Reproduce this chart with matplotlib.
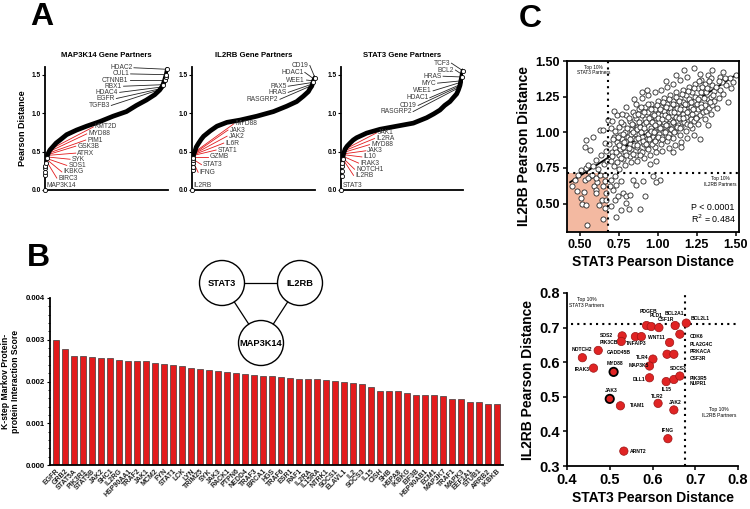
import numpy as np
import matplotlib
matplotlib.use("Agg")
import matplotlib.pyplot as plt
from matplotlib.patches import Circle

plt.rcParams["font.family"] = ["Liberation Sans", "DejaVu Sans"]

# ---------------- panel A: ranked Pearson distances (rank fraction, distance)
map3k14_rank = [0.0, 0.0, 0.0, 0.003, 0.008, 0.014, 0.02, 0.027, 0.04, 0.068, 0.09, 0.122, 0.176,
                0.257, 0.338, 0.446, 0.554, 0.662, 0.743, 0.824, 0.892, 0.932, 0.95, 0.959, 0.973,
                0.98, 0.986, 0.995]
map3k14_dist = [0.19, 0.23, 0.28, 0.31, 0.35, 0.41, 0.45, 0.48, 0.52, 0.57, 0.61, 0.65, 0.72,
                0.78, 0.83, 0.89, 0.96, 1.02, 1.10, 1.17, 1.24, 1.30, 1.34, 1.37, 1.43,
                1.47, 1.50, 1.57]
il2rb_rank = [0.008, 0.01, 0.008, 0.008, 0.01, 0.014, 0.027, 0.035, 0.054, 0.075, 0.095, 0.149,
              0.203, 0.284, 0.392, 0.527, 0.662, 0.77, 0.851, 0.905, 0.946, 0.96, 0.973, 0.986, 1.0]
il2rb_dist = [0.26, 0.30, 0.35, 0.39, 0.42, 0.46, 0.52, 0.56, 0.61, 0.66, 0.70, 0.77,
              0.83, 0.88, 0.91, 0.96, 1.02, 1.09, 1.15, 1.22, 1.28, 1.32, 1.35, 1.41, 1.46]
stat3_rank = [0.005, 0.005, 0.008, 0.01, 0.014, 0.019, 0.033, 0.05, 0.074, 0.1, 0.128, 0.21, 0.32,
              0.456, 0.593, 0.702, 0.76, 0.811, 0.85, 0.893, 0.92, 0.948, 0.962, 0.975, 0.989, 1.0]
stat3_dist = [0.18, 0.25, 0.31, 0.35, 0.40, 0.46, 0.53, 0.57, 0.61, 0.65, 0.68, 0.74, 0.79,
              0.83, 0.87, 0.94, 0.99, 1.04, 1.10, 1.15, 1.20, 1.25, 1.30, 1.36, 1.47, 1.55]

map3k14_far = ["HDAC2", "CUL1", "CTNNB1", "RBX1", "HDAC4", "EGFR", "TGFB3"]
map3k14_far_at = [(0.995, 1.57), (0.986, 1.50), (0.973, 1.43), (0.959, 1.37), (0.95, 1.34),
                  (0.945, 1.32), (0.94, 1.31)]
map3k14_near = ["KMT2D", "MYD88", "PIM1", "GSK3B", "ATRX", "SYK", "SOS1", "IKBKG", "BIRC3"]
map3k14_near_at = [(0.045, 0.53), (0.035, 0.50), (0.03, 0.48), (0.025, 0.46), (0.02, 0.45),
                   (0.017, 0.43), (0.014, 0.41), (0.012, 0.40), (0.01, 0.38)]

il2rb_far = ["CD19", "HDAC1", "WEE1", "PAX5", "HRAS", "RASGRP2"]
il2rb_far_at = [(1.0, 1.46), (0.995, 1.44), (0.99, 1.42), (0.985, 1.40), (0.98, 1.38), (0.975, 1.36)]
il2rb_near = ["MYD88", "JAK3", "JAK2", "IL6R", "STAT1", "GZMB", "STAT3", "IFNG"]
il2rb_near_at = [(0.027, 0.50), (0.022, 0.48), (0.018, 0.47), (0.016, 0.46), (0.014, 0.45),
                 (0.012, 0.43), (0.009, 0.40), (0.008, 0.37)]

stat3_far = ["TCF3", "BCL2", "HRAS", "MYC", "WEE1", "HDAC1", "CD19", "RASGRP2"]
stat3_far_at = [(1.0, 1.55), (0.995, 1.50), (0.99, 1.47), (0.985, 1.42), (0.98, 1.40),
                (0.975, 1.37), (0.97, 1.35), (0.965, 1.33)]
stat3_near = ["JAK1", "IL2RA", "MYD88", "JAK3", "IL10", "IRAK3", "NOTCH1", "IL2RB"]
stat3_near_at = [(0.033, 0.53), (0.028, 0.51), (0.024, 0.49), (0.02, 0.47), (0.018, 0.46),
                 (0.015, 0.44), (0.013, 0.42), (0.012, 0.41)]

# ---------------- panel B: K-step Markov PPI scores
bar_genes = ["EGFR", "GRB2", "STAT5A", "PIK3R1", "STAT5B", "JAK2", "SHC1", "IL2RG", "HSP90AA1",
             "TRAF2", "JAK1", "MCM2", "FYN", "STAT1", "LCK", "LYN", "TRIM25", "SYK", "JAK3",
             "RACK1", "PTPN6", "NEDD4", "TRAF3", "BRCA1", "HGS", "TRAF6", "ESR1", "RAF1",
             "IL2RA", "IL15RA", "NTRK1", "SOCS1", "ELAVL1", "IL2", "SOCS3", "IL15", "CISH",
             "SHB", "HSPA8", "IKBKG", "EIF3B", "HSP90AB1", "ECM1", "MAP3K7", "TRAF1", "MAPK3",
             "EEF1A1", "STUB1", "ARRB2", "IKBKB"]
bar_scores = [0.00300, 0.00279, 0.00261, 0.00261, 0.00258, 0.00257, 0.00256, 0.00252, 0.00248,
              0.00248, 0.00248, 0.00245, 0.00242, 0.00240, 0.00236, 0.00233, 0.00230, 0.00228,
              0.00226, 0.00222, 0.00220, 0.00219, 0.00216, 0.00214, 0.00212, 0.00210, 0.00209,
              0.00207, 0.00206, 0.00205, 0.00203, 0.00201, 0.00199, 0.00196, 0.00193, 0.00188,
              0.00177, 0.00177, 0.00177, 0.00172, 0.00168, 0.00167, 0.00167, 0.00165, 0.00159,
              0.00157, 0.00152, 0.00150, 0.00146, 0.00145]
net_nodes = ["STAT3", "IL2RB", "MAP3K14"]
net_edges = [("STAT3", "IL2RB"), ("STAT3", "MAP3K14"), ("IL2RB", "MAP3K14")]

# ---------------- panel C (top): STAT3 vs IL2RB distance for all genes
corr_pairs = [
    # lower-left quadrant
    (0.453, 0.621), (0.483, 0.586), (0.511, 0.540), (0.526, 0.579), (0.517, 0.500), (0.543, 0.486),
    (0.547, 0.347), (0.474, 0.667), (0.532, 0.667), (0.564, 0.691), (0.590, 0.621), (0.603, 0.598),
    (0.607, 0.574), (0.611, 0.649), (0.624, 0.486), (0.645, 0.523), (0.650, 0.621), (0.660, 0.656),
    (0.660, 0.470), (0.650, 0.388), (0.667, 0.574), (0.671, 0.528), (0.553, 0.679), (0.581, 0.702),
    (0.603, 0.679), (0.628, 0.702), (0.660, 0.700), (0.489, 0.700),
    # below IL2RB cut, right of STAT3 cut
    (0.735, 0.407), (0.763, 0.453), (0.703, 0.481), (0.724, 0.528), (0.746, 0.551), (0.778, 0.574),
    (0.799, 0.551), (0.821, 0.563), (0.816, 0.463), (0.889, 0.463), (0.917, 0.551), (0.795, 0.505),
    (0.714, 0.598), (0.692, 0.621), (0.735, 0.633), (0.767, 0.656), (0.842, 0.667), (0.863, 0.633),
    (0.906, 0.656), (0.970, 0.691), (1.017, 0.663), (0.724, 0.690), (0.703, 0.667), (0.990, 0.650),
    # upper-left
    (0.511, 0.737), (0.543, 0.749), (0.532, 0.900), (0.543, 0.947), (0.564, 0.877), (0.585, 0.970),
    (0.628, 1.016), (0.650, 1.016), (0.660, 0.923), (0.671, 0.865), (0.639, 0.842), (0.682, 1.086),
    (0.607, 0.807), (0.553, 0.772), (0.585, 0.760), (0.620, 0.740), (0.655, 0.780), (0.675, 0.800),
    # main band
    (0.70, 0.80), (0.71, 0.86), (0.69, 0.92), (0.72, 0.97), (0.70, 1.03), (0.71, 1.08), (0.72, 0.76),
    (0.73, 0.89), (0.74, 0.79), (0.75, 0.84), (0.74, 0.93), (0.76, 0.98), (0.75, 1.04), (0.74, 1.12),
    (0.76, 0.88), (0.75, 0.74), (0.77, 0.95), (0.78, 0.81), (0.79, 0.86), (0.78, 0.90), (0.80, 0.94),
    (0.79, 1.00), (0.78, 1.06), (0.80, 1.12), (0.79, 0.77), (0.81, 0.97), (0.80, 1.18), (0.82, 0.83),
    (0.83, 0.88), (0.82, 0.92), (0.84, 0.96), (0.83, 1.02), (0.82, 1.08), (0.84, 1.14), (0.83, 0.79),
    (0.85, 0.91), (0.84, 1.05), (0.83, 0.99), (0.86, 0.84), (0.87, 0.90), (0.86, 0.95), (0.88, 0.99),
    (0.87, 1.04), (0.86, 1.10), (0.88, 1.16), (0.87, 0.80), (0.89, 0.93), (0.88, 1.07), (0.86, 1.20),
    (0.89, 0.87), (0.90, 0.86), (0.91, 0.92), (0.90, 0.97), (0.92, 1.01), (0.91, 1.06), (0.90, 1.12),
    (0.92, 1.18), (0.91, 0.82), (0.93, 0.95), (0.92, 1.09), (0.90, 1.24), (0.93, 0.89), (0.94, 0.88),
    (0.95, 0.93), (0.94, 0.99), (0.96, 1.03), (0.95, 1.08), (0.94, 1.14), (0.96, 1.20), (0.95, 0.84),
    (0.97, 0.97), (0.96, 1.11), (0.94, 1.26), (0.97, 1.16), (0.95, 0.78), (0.98, 0.90), (0.99, 0.95),
    (0.98, 1.01), (1.00, 1.05), (0.99, 1.10), (0.98, 1.16), (1.00, 1.22), (0.99, 0.86), (1.01, 0.99),
    (1.00, 1.13), (0.98, 1.28), (1.01, 1.07), (0.99, 0.80), (1.02, 0.92), (1.03, 0.97), (1.02, 1.03),
    (1.04, 1.07), (1.03, 1.12), (1.02, 1.18), (1.04, 1.24), (1.03, 0.87), (1.05, 1.01), (1.04, 1.15),
    (1.02, 1.30), (1.05, 1.09), (1.06, 0.94), (1.07, 0.99), (1.06, 1.05), (1.08, 1.09), (1.07, 1.14),
    (1.06, 1.20), (1.08, 1.26), (1.07, 0.89), (1.09, 1.03), (1.08, 1.17), (1.06, 1.32), (1.09, 1.12),
    (1.10, 0.96), (1.11, 1.01), (1.10, 1.07), (1.12, 1.11), (1.11, 1.16), (1.10, 1.22), (1.12, 1.28),
    (1.11, 0.91), (1.13, 1.05), (1.12, 1.19), (1.10, 1.34), (1.13, 1.14), (1.14, 0.98), (1.15, 1.04),
    (1.14, 1.09), (1.16, 1.13), (1.15, 1.18), (1.14, 1.24), (1.16, 1.30), (1.15, 0.93), (1.17, 1.07),
    (1.16, 1.21), (1.14, 1.37), (1.17, 1.16), (1.18, 1.01), (1.19, 1.06), (1.18, 1.11), (1.20, 1.15),
    (1.19, 1.20), (1.18, 1.26), (1.20, 1.32), (1.19, 0.96), (1.21, 1.09), (1.20, 1.23), (1.17, 1.44),
    (1.21, 1.18), (1.22, 1.03), (1.23, 1.08), (1.22, 1.13), (1.24, 1.17), (1.23, 1.22), (1.22, 1.28),
    (1.24, 1.34), (1.23, 0.98), (1.25, 1.11), (1.24, 1.25), (1.23, 1.45), (1.25, 1.20), (1.26, 1.06),
    (1.27, 1.12), (1.26, 1.16), (1.28, 1.20), (1.27, 1.25), (1.26, 1.31), (1.28, 1.37), (1.27, 0.95),
    (1.29, 1.14), (1.28, 1.28), (1.30, 1.09), (1.31, 1.15), (1.30, 1.19), (1.32, 1.23), (1.31, 1.28),
    (1.30, 1.34), (1.32, 1.40), (1.32, 1.05), (1.33, 1.17), (1.34, 1.13), (1.35, 1.19), (1.34, 1.25),
    (1.36, 1.29), (1.35, 1.33), (1.34, 1.38), (1.36, 1.22), (1.38, 1.17), (1.39, 1.24), (1.40, 1.30),
    (1.41, 1.35), (1.40, 1.39), (1.42, 1.27), (1.44, 1.33), (1.46, 1.38), (1.47, 1.31), (1.50, 1.40),
    (1.45, 1.21), (1.10, 0.86), (1.15, 0.90), (0.72, 1.15), (0.77, 1.13), (0.85, 1.23),
    # extra band points
    (0.705, 0.83), (0.715, 0.95), (0.725, 1.01), (0.735, 0.86), (0.745, 0.97), (0.755, 0.91),
    (0.765, 1.07), (0.765, 0.82), (0.775, 0.99), (0.785, 0.93), (0.795, 0.84), (0.805, 1.03),
    (0.815, 0.89), (0.815, 1.10), (0.825, 0.95), (0.835, 1.06), (0.845, 0.85), (0.845, 1.00),
    (0.855, 1.12), (0.865, 0.91), (0.865, 1.02), (0.875, 0.96), (0.875, 1.13), (0.885, 0.84),
    (0.885, 1.04), (0.895, 1.00), (0.895, 1.18), (0.905, 0.94), (0.915, 1.03), (0.915, 1.14),
    (0.925, 0.92), (0.925, 1.07), (0.935, 0.99), (0.935, 1.20), (0.945, 0.95), (0.945, 1.10),
    (0.955, 1.01), (0.955, 1.16), (0.965, 0.92), (0.965, 1.07), (0.975, 1.00), (0.975, 1.12),
    (0.985, 0.94), (0.985, 1.05), (0.995, 1.19), (1.005, 0.97), (1.005, 1.10), (1.015, 1.03),
    (1.015, 1.16), (1.025, 0.95), (1.025, 1.09), (1.035, 1.21), (1.045, 1.00), (1.045, 1.12),
    (1.055, 1.05), (1.055, 1.18), (1.065, 0.97), (1.065, 1.11), (1.075, 1.23), (1.085, 1.02),
    (1.085, 1.14), (1.095, 1.07), (1.095, 1.20), (1.105, 1.00), (1.105, 1.14), (1.115, 1.25),
    (1.125, 1.04), (1.125, 1.17), (1.135, 1.10), (1.135, 1.22), (1.145, 1.03), (1.145, 1.16),
    (1.155, 1.27), (1.165, 1.10), (1.175, 1.20), (1.185, 1.14), (1.195, 1.29), (1.205, 1.05),
    (1.215, 1.21), (1.225, 1.16), (1.235, 1.31), (1.245, 1.10), (1.255, 1.23), (1.265, 1.36),
    (1.275, 1.18), (1.285, 1.32), (1.295, 1.24), (1.315, 1.31), (1.325, 1.36), (1.335, 1.21),
    (1.355, 1.26), (1.375, 1.32), (1.395, 1.36), (1.43, 1.38), (1.48, 1.35),
    (0.90, 1.28), (0.93, 1.30), (1.05, 1.36), (1.12, 1.40), (1.19, 1.39), (1.27, 1.41),
    (1.35, 1.44), (1.42, 1.42),
]
stat3_cut = 0.68
il2rb_cut = 0.711
fit_slope = 0.71
fit_intercept = 0.337
fit_p = "P < 0.0001"
fit_r2 = "0.484"

# ---------------- panel C (bottom): genes in the top 10% of both
shared_stat3 = [0.436, 0.462, 0.473, 0.509, 0.500, 0.525, 0.533, 0.529, 0.527, 0.560, 0.574, 0.586,
                0.597, 0.615, 0.653, 0.679, 0.664, 0.640, 0.634, 0.650, 0.601, 0.593, 0.593, 0.632,
                0.650, 0.664, 0.613, 0.650, 0.636]
shared_il2rb = [0.613, 0.583, 0.634, 0.572, 0.494, 0.474, 0.343, 0.676, 0.660, 0.674, 0.674, 0.706,
                0.703, 0.700, 0.706, 0.713, 0.681, 0.657, 0.623, 0.623, 0.609, 0.589, 0.555, 0.544,
                0.550, 0.560, 0.481, 0.462, 0.379]
shared_ringed = [False, False, False, True, True] + [False] * 24
shared_names = ["PDGFB", "PLD1", "CSF1R", "BCL2A1", "BCL2L1", "SOS2", "WNT11", "TNFAIP3", "PIK3CB",
                "CDK6", "PLA2G4C", "NOTCH2", "GADD45B", "PRKACA", "CSF3R", "TLR4", "MYD88",
                "MAP3K5", "IRAK3", "SOCS3", "DLL1", "PIK3R5", "NUPR1", "IL15", "JAK3", "TLR2",
                "JAK2", "TIAM1", "IFNG", "ARNT2"]

# ---------------- layout (positions of labels)
map3k14_far_pos = [(0.711, 1.59), (0.684, 1.51), (0.676, 1.43), (0.627, 1.35), (0.595, 1.27),
                   (0.568, 1.19), (0.527, 1.10)]
map3k14_near_pos = [(0.405, 0.82), (0.351, 0.73), (0.343, 0.65), (0.262, 0.57), (0.262, 0.48),
                    (0.216, 0.40), (0.189, 0.32), (0.149, 0.235), (0.108, 0.155)]
il2rb_far_pos = [(0.946, 1.62), (0.905, 1.53), (0.919, 1.43), (0.77, 1.35), (0.77, 1.27), (0.703, 1.18)]
il2rb_near_pos = [(0.351, 0.86), (0.305, 0.78), (0.297, 0.70), (0.27, 0.61), (0.208, 0.52),
                  (0.143, 0.43), (0.089, 0.33), (0.062, 0.23)]
stat3_far_pos = [(0.893, 1.65), (0.926, 1.56), (0.825, 1.48), (0.779, 1.39), (0.743, 1.29),
                 (0.716, 1.20), (0.62, 1.10), (0.579, 1.02)]
stat3_near_pos = [(0.306, 0.745), (0.287, 0.67), (0.246, 0.59), (0.216, 0.51), (0.183, 0.43),
                  (0.156, 0.35), (0.123, 0.27), (0.115, 0.19)]
shared_label_pos = [(0.570, 0.747), (0.593, 0.734), (0.613, 0.723), (0.628, 0.740), (0.689, 0.727),
                    (0.476, 0.676), (0.589, 0.671), (0.539, 0.655), (0.476, 0.658), (0.687, 0.674),
                    (0.687, 0.650), (0.410, 0.636), (0.492, 0.628), (0.687, 0.631), (0.687, 0.611),
                    (0.562, 0.614), (0.492, 0.595), (0.543, 0.591), (0.418, 0.578), (0.640, 0.582),
                    (0.554, 0.551), (0.687, 0.553), (0.687, 0.537), (0.621, 0.521), (0.488, 0.518),
                    (0.597, 0.502), (0.639, 0.483), (0.547, 0.474), (0.621, 0.402), (0.547, 0.341)]
net_pos = {"STAT3": (222, 283), "IL2RB": (300, 283), "MAP3K14": (261, 343)}

RED = "#e31a1c"
W, H = 750, 509

fig = plt.figure(figsize=(7.5, 5.09), dpi=100)


def px_rect(left, top, right, bottom):
    return [left / W, 1 - bottom / H, (right - left) / W, (bottom - top) / H]


def curve_panel(rect, title, rank, dist, self_name, far, far_at, far_pos, near, near_at, near_pos,
                ylabel=False):
    ax = fig.add_axes(rect)
    rank = np.array(rank)
    dist = np.array(dist)
    body = dist >= 0.38
    ax.plot(rank[body], dist[body], color="black", lw=3.4, solid_capstyle="round", zorder=3)
    tail = (dist < 0.45) | (dist > 1.36)
    ax.plot(rank[tail], dist[tail], "o", ms=3.0, mfc="white", mec="black", mew=0.6, zorder=4,
            clip_on=False)
    ax.plot([0], [0], "o", ms=3.0, mfc="white", mec="black", mew=0.6, zorder=5, clip_on=False)
    for name, (tx, ty), (lx, ly) in zip(far, far_at, far_pos):
        ax.plot([lx + 0.012, tx], [ly, ty], color="#222222", lw=0.6, zorder=2, clip_on=False)
        ax.text(lx, ly, name, ha="right", va="center", fontsize=4.8, color="#3a3a3a")
    for name, (tx, ty), (lx, ly) in zip(near, near_at, near_pos):
        ax.plot([lx - 0.012, tx], [ly, ty], color=RED, lw=0.6, zorder=2)
        ax.text(lx, ly, name, ha="left", va="center", fontsize=4.8, color="#3a3a3a")
    ax.text(0.014, 0.06, self_name, ha="left", va="center", fontsize=4.8, color="#3a3a3a")
    ax.set_xlim(0, 1.0)
    ax.set_ylim(0, 1.6)
    ax.set_xticks([])
    ax.set_yticks([0, 0.5, 1.0, 1.5])
    ax.set_yticklabels(["0.0", "0.5", "1.0", "1.5"], fontsize=4.8, fontweight="bold")
    ax.tick_params(axis="y", length=2, width=0.8, pad=1)
    for s in ["top", "right"]:
        ax.spines[s].set_visible(False)
    for s in ["left", "bottom"]:
        ax.spines[s].set_linewidth(1.3)
    ax.set_title(title, fontsize=5.6, fontweight="bold", pad=7)
    if ylabel:
        ax.set_ylabel("Pearson Distance", fontsize=6.5, fontweight="bold", labelpad=3)
    ax.patch.set_alpha(0)
    return ax


curve_panel(px_rect(45, 67, 168, 190), "MAP3K14 Gene Partners", map3k14_rank, map3k14_dist,
            "MAP3K14", map3k14_far, map3k14_far_at, map3k14_far_pos,
            map3k14_near, map3k14_near_at, map3k14_near_pos, ylabel=True)
curve_panel(px_rect(192, 67, 315, 190), "IL2RB Gene Partners", il2rb_rank, il2rb_dist,
            "IL2RB", il2rb_far, il2rb_far_at, il2rb_far_pos,
            il2rb_near, il2rb_near_at, il2rb_near_pos)
curve_panel(px_rect(341, 67, 463, 190), "STAT3 Gene Partners", stat3_rank, stat3_dist,
            "STAT3", stat3_far, stat3_far_at, stat3_far_pos,
            stat3_near, stat3_near_at, stat3_near_pos)

# ---------------- panel B
axb = fig.add_axes(px_rect(50, 298, 503, 465))
xb = np.arange(len(bar_genes))
axb.bar(xb, bar_scores, width=0.62, color=RED, edgecolor="#3c3c3c", linewidth=0.5)
axb.set_xlim(-0.67, len(bar_genes) - 0.33)
axb.set_ylim(0, 0.004)
axb.set_yticks(np.arange(0, 0.0041, 0.001))
axb.set_yticks(np.arange(0, 0.0041, 0.0002), minor=True)
axb.set_yticklabels(["0.000", "0.001", "0.002", "0.003", "0.004"], fontsize=5.6, fontweight="bold")
axb.set_xticks(xb)
axb.set_xticklabels(bar_genes, rotation=45, ha="right", va="top", rotation_mode="anchor",
                    fontsize=5.0, fontweight="bold", color="#222222")
axb.tick_params(axis="x", length=0, pad=2)
axb.tick_params(axis="y", which="major", length=2.5, width=0.8, pad=1)
axb.tick_params(axis="y", which="minor", length=1.5, width=0.6)
for s in ["top", "right"]:
    axb.spines[s].set_visible(False)
for s in ["left", "bottom"]:
    axb.spines[s].set_linewidth(1.3)
axb.set_ylabel("K-step Markov Protein-\nprotein Interaction Score", fontsize=6.2,
               fontweight="bold", labelpad=4)

# network sketch drawn in pixel space
net = fig.add_axes([0, 0, 1, 1])
net.set_xlim(0, W)
net.set_ylim(H, 0)
net.axis("off")
for a, b in net_edges:
    (x1, y1), (x2, y2) = net_pos[a], net_pos[b]
    net.plot([x1, x2], [y1, y2], color="black", lw=0.9, zorder=1)
for name in net_nodes:
    cx, cy = net_pos[name]
    net.add_patch(Circle((cx, cy), 22.5, facecolor="white", edgecolor="black", lw=1.0, zorder=2))
    net.text(cx, cy, name, ha="center", va="center", fontsize=6.7, fontweight="bold", zorder=3)

# ---------------- panel C top
axc = fig.add_axes(px_rect(567, 61, 739, 232))
cx_all = [p[0] for p in corr_pairs]
cy_all = [p[1] for p in corr_pairs]
axc.fill_between([0.42, stat3_cut], 0.30, il2rb_cut, color="#f3b9a1", lw=0, zorder=0)
xs = np.array([0.44, 1.51])
axc.plot(xs, fit_intercept + fit_slope * xs, color="black", lw=1.3, zorder=1)
axc.plot(cx_all, cy_all, "o", ms=3.7, mfc="white", mec="#262626", mew=0.6, zorder=2)
axc.axvline(stat3_cut, color="black", ls=(0, (1, 2)), lw=1.5, zorder=3)
axc.axhline(il2rb_cut, color="black", ls=(0, (1, 2)), lw=1.5, zorder=3)
axc.text(0.59, 1.475, "Top 10%\nSTAT3 Partners", ha="center", va="top", fontsize=3.4,
         linespacing=1.2)
axc.text(1.40, 0.695, "Top 10%\nIL2RB Partners", ha="center", va="top", fontsize=3.4,
         linespacing=1.2)
axc.text(1.215, 0.47, fit_p, ha="left", va="center", fontsize=6.4)
axc.text(1.215, 0.39, "R$^2$ = " + fit_r2, ha="left", va="center", fontsize=6.4)
axc.set_xlim(0.42, 1.52)
axc.set_ylim(0.30, 1.50)
axc.set_xticks([0.5, 0.75, 1.0, 1.25, 1.5])
axc.set_yticks([0.5, 0.75, 1.0, 1.25, 1.5])
axc.set_xticklabels(["0.50", "0.75", "1.00", "1.25", "1.50"], fontsize=9, fontweight="bold")
axc.set_yticklabels(["0.50", "0.75", "1.00", "1.25", "1.50"], fontsize=9, fontweight="bold")
axc.tick_params(length=3, width=1.1, pad=2)
for s in axc.spines.values():
    s.set_linewidth(1.3)
axc.set_xlabel("STAT3 Pearson Distance", fontsize=10, fontweight="bold", labelpad=3)
axc.set_ylabel("IL2RB Pearson Distance", fontsize=10, fontweight="bold", labelpad=3)

# ---------------- panel C bottom
axd = fig.add_axes(px_rect(567, 293, 738, 466))
axd.axvline(stat3_cut - 0.003, color="black", ls=(0, (1, 2)), lw=1.5, zorder=1)
axd.plot([0.41, 0.8], [il2rb_cut, il2rb_cut], color="black", ls=(0, (1, 2)), lw=1.5, zorder=1)
edge_cols = ["black" if r else "#9c1414" for r in shared_ringed]
edge_w = [1.3 if r else 0.5 for r in shared_ringed]
axd.scatter(shared_stat3, shared_il2rb, s=36, color="#e02424", edgecolors=edge_cols,
            linewidths=edge_w, zorder=3, clip_on=False)
for name, (lx, ly) in zip(shared_names, shared_label_pos):
    axd.text(lx, ly, name, ha="left", va="center", fontsize=3.6, fontweight="bold", zorder=4)
axd.text(0.405, 0.772, "Top 10%\nSTAT3 Partners", ha="left", va="center", fontsize=3.6,
         multialignment="center", linespacing=1.2)
axd.text(0.755, 0.455, "Top 10%\nIL2RB Partners", ha="center", va="center", fontsize=3.6,
         linespacing=1.2)
axd.set_xlim(0.4, 0.8)
axd.set_ylim(0.3, 0.8)
axd.set_xticks([0.4, 0.5, 0.6, 0.7, 0.8])
axd.set_yticks([0.3, 0.4, 0.5, 0.6, 0.7, 0.8])
axd.set_xticklabels(["0.4", "0.5", "0.6", "0.7", "0.8"], fontsize=10.5, fontweight="bold")
axd.set_yticklabels(["0.3", "0.4", "0.5", "0.6", "0.7", "0.8"], fontsize=10.5, fontweight="bold")
axd.tick_params(length=3, width=1.1, pad=2)
for s in ["top", "right"]:
    axd.spines[s].set_visible(False)
for s in ["left", "bottom"]:
    axd.spines[s].set_linewidth(1.3)
axd.set_xlabel("STAT3 Pearson Distance", fontsize=10, fontweight="bold", labelpad=3)
axd.set_ylabel("IL2RB Pearson Distance", fontsize=10, fontweight="bold", labelpad=3)

# panel letters
fig.text(30 / W, 1 - 2 / H, "A", fontsize=23, fontweight="bold", va="top", ha="left")
fig.text(27 / W, 1 - 243 / H, "B", fontsize=23, fontweight="bold", va="top", ha="left")
fig.text(519 / W, 1 - 4 / H, "C", fontsize=23, fontweight="bold", va="top", ha="left")

fig.savefig("out.png", dpi=100)
